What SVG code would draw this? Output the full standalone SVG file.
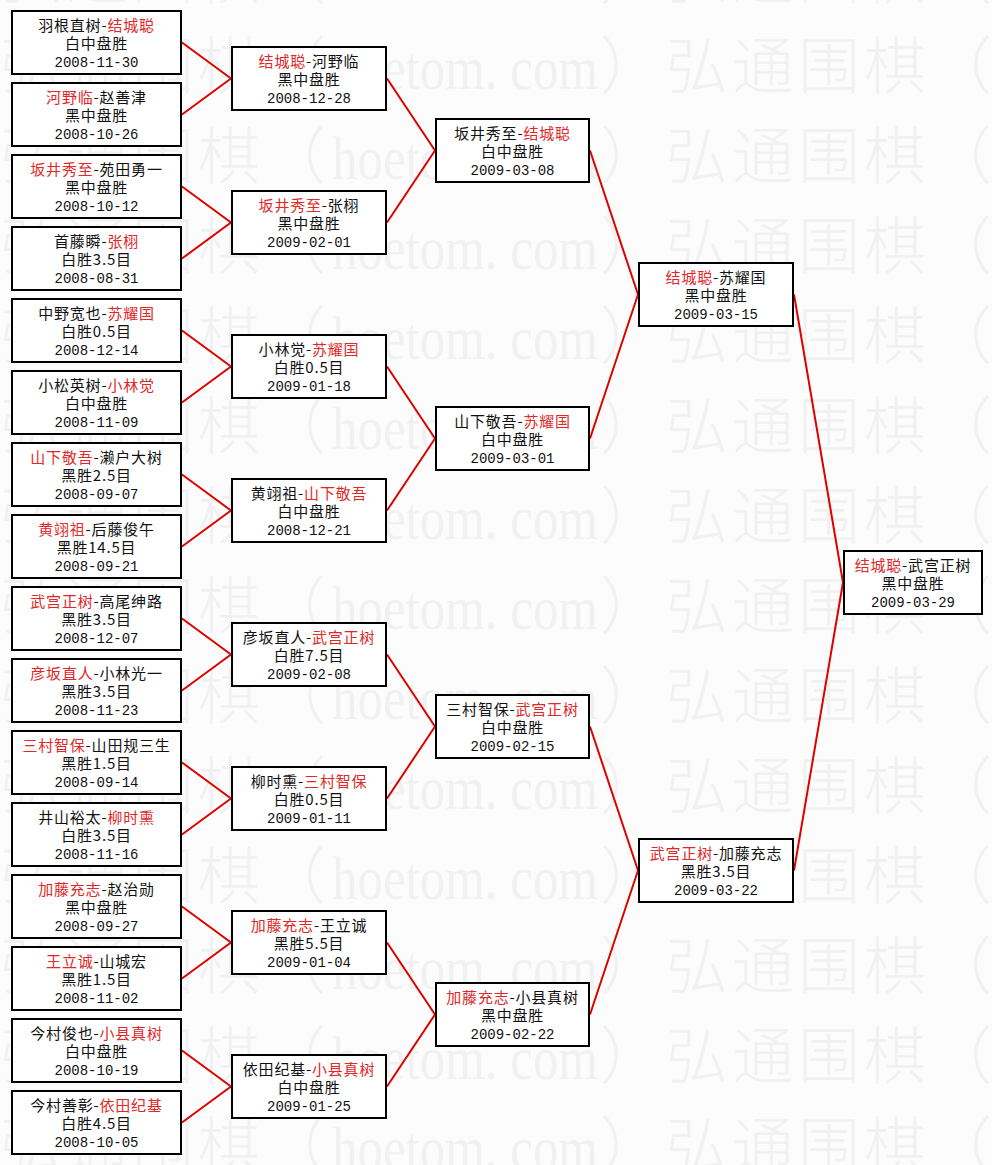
<svg xmlns="http://www.w3.org/2000/svg" width="992" height="1165" viewBox="0 0 992 1165">
<style>
.wmc{font-family:"Noto Sans CJK SC",sans-serif;font-size:62px;font-weight:300;letter-spacing:4px;fill:#f1f1f1}
.wml{font-family:"Liberation Serif","DejaVu Serif",serif;font-size:62px;fill:#f1f1f1}
.box{fill:#fff;stroke:#000;stroke-width:2}
.t{font-family:"Noto Sans CJK SC",sans-serif;font-size:15px;letter-spacing:0.8px;text-anchor:middle;fill:#111}
.d{font-family:"Liberation Mono","DejaVu Sans Mono",monospace;font-size:14px;text-anchor:middle;fill:#111}
.r{fill:#e02828}
.ln{stroke:#e00000;stroke-width:2;fill:none}
</style>
<defs>
<pattern id="wm" x="0" y="20" width="666" height="90" patternUnits="userSpaceOnUse">
<text class="wmc" x="0" y="69">弘通围棋（</text>
<text class="wml" x="332" y="69" textLength="266" lengthAdjust="spacingAndGlyphs">hoetom. com</text>
<text class="wmc" x="600" y="69">）</text>
</pattern>
</defs>
<rect width="992" height="1165" fill="#fcfcfc"/>
<rect width="992" height="1165" fill="url(#wm)"/>
<g id="connectors">
<path class="ln" d="M182 42.5L231 78.5M182 114.5L231 78.5M182 186.5L231 222.5M182 258.5L231 222.5M182 330.5L231 366.5M182 402.5L231 366.5M182 474.5L231 510.5M182 546.5L231 510.5M182 618.5L231 654.5M182 690.5L231 654.5M182 762.5L231 798.5M182 834.5L231 798.5M182 906.5L231 942.5M182 978.5L231 942.5M182 1050.5L231 1086.5M182 1122.5L231 1086.5"/>
<path class="ln" d="M387 78.5L435 150.5M387 222.5L435 150.5M387 366.5L435 438.5M387 510.5L435 438.5M387 654.5L435 726.5M387 798.5L435 726.5M387 942.5L435 1014.5M387 1086.5L435 1014.5"/>
<path class="ln" d="M590 150.5L638 294.5M590 438.5L638 294.5M590 726.5L638 870.5M590 1014.5L638 870.5"/>
<path class="ln" d="M794 294.5L843 582.5M794 870.5L843 582.5"/>
</g>
<g id="r1-1"><rect class="box" x="12" y="11" width="169" height="63"/><text class="t" x="96.5" y="31">羽根直树-<tspan class="r">结城聪</tspan></text><text class="t" x="96.5" y="49">白中盘胜</text><text class="d" x="96.5" y="67">2008-11-30</text></g>
<g id="r1-2"><rect class="box" x="12" y="83" width="169" height="63"/><text class="t" x="96.5" y="103"><tspan class="r">河野临</tspan>-赵善津</text><text class="t" x="96.5" y="121">黑中盘胜</text><text class="d" x="96.5" y="139">2008-10-26</text></g>
<g id="r1-3"><rect class="box" x="12" y="155" width="169" height="63"/><text class="t" x="96.5" y="175"><tspan class="r">坂井秀至</tspan>-苑田勇一</text><text class="t" x="96.5" y="193">黑中盘胜</text><text class="d" x="96.5" y="211">2008-10-12</text></g>
<g id="r1-4"><rect class="box" x="12" y="227" width="169" height="63"/><text class="t" x="96.5" y="247">首藤瞬-<tspan class="r">张栩</tspan></text><text class="t" x="96.5" y="265">白胜3.5目</text><text class="d" x="96.5" y="283">2008-08-31</text></g>
<g id="r1-5"><rect class="box" x="12" y="299" width="169" height="63"/><text class="t" x="96.5" y="319">中野宽也-<tspan class="r">苏耀国</tspan></text><text class="t" x="96.5" y="337">白胜0.5目</text><text class="d" x="96.5" y="355">2008-12-14</text></g>
<g id="r1-6"><rect class="box" x="12" y="371" width="169" height="63"/><text class="t" x="96.5" y="391">小松英树-<tspan class="r">小林觉</tspan></text><text class="t" x="96.5" y="409">白中盘胜</text><text class="d" x="96.5" y="427">2008-11-09</text></g>
<g id="r1-7"><rect class="box" x="12" y="443" width="169" height="63"/><text class="t" x="96.5" y="463"><tspan class="r">山下敬吾</tspan>-濑户大树</text><text class="t" x="96.5" y="481">黑胜2.5目</text><text class="d" x="96.5" y="499">2008-09-07</text></g>
<g id="r1-8"><rect class="box" x="12" y="515" width="169" height="63"/><text class="t" x="96.5" y="535"><tspan class="r">黄翊祖</tspan>-后藤俊午</text><text class="t" x="96.5" y="553">黑胜14.5目</text><text class="d" x="96.5" y="571">2008-09-21</text></g>
<g id="r1-9"><rect class="box" x="12" y="587" width="169" height="63"/><text class="t" x="96.5" y="607"><tspan class="r">武宫正树</tspan>-高尾绅路</text><text class="t" x="96.5" y="625">黑胜3.5目</text><text class="d" x="96.5" y="643">2008-12-07</text></g>
<g id="r1-10"><rect class="box" x="12" y="659" width="169" height="63"/><text class="t" x="96.5" y="679"><tspan class="r">彦坂直人</tspan>-小林光一</text><text class="t" x="96.5" y="697">黑胜3.5目</text><text class="d" x="96.5" y="715">2008-11-23</text></g>
<g id="r1-11"><rect class="box" x="12" y="731" width="169" height="63"/><text class="t" x="96.5" y="751"><tspan class="r">三村智保</tspan>-山田规三生</text><text class="t" x="96.5" y="769">黑胜1.5目</text><text class="d" x="96.5" y="787">2008-09-14</text></g>
<g id="r1-12"><rect class="box" x="12" y="803" width="169" height="63"/><text class="t" x="96.5" y="823">井山裕太-<tspan class="r">柳时熏</tspan></text><text class="t" x="96.5" y="841">白胜3.5目</text><text class="d" x="96.5" y="859">2008-11-16</text></g>
<g id="r1-13"><rect class="box" x="12" y="875" width="169" height="63"/><text class="t" x="96.5" y="895"><tspan class="r">加藤充志</tspan>-赵治勋</text><text class="t" x="96.5" y="913">黑中盘胜</text><text class="d" x="96.5" y="931">2008-09-27</text></g>
<g id="r1-14"><rect class="box" x="12" y="947" width="169" height="63"/><text class="t" x="96.5" y="967"><tspan class="r">王立诚</tspan>-山城宏</text><text class="t" x="96.5" y="985">黑胜1.5目</text><text class="d" x="96.5" y="1003">2008-11-02</text></g>
<g id="r1-15"><rect class="box" x="12" y="1019" width="169" height="63"/><text class="t" x="96.5" y="1039">今村俊也-<tspan class="r">小县真树</tspan></text><text class="t" x="96.5" y="1057">白中盘胜</text><text class="d" x="96.5" y="1075">2008-10-19</text></g>
<g id="r1-16"><rect class="box" x="12" y="1091" width="169" height="63"/><text class="t" x="96.5" y="1111">今村善彰-<tspan class="r">依田纪基</tspan></text><text class="t" x="96.5" y="1129">白胜4.5目</text><text class="d" x="96.5" y="1147">2008-10-05</text></g>
<g id="r2-1"><rect class="box" x="232" y="47" width="154" height="63"/><text class="t" x="309" y="67"><tspan class="r">结城聪</tspan>-河野临</text><text class="t" x="309" y="85">黑中盘胜</text><text class="d" x="309" y="103">2008-12-28</text></g>
<g id="r2-2"><rect class="box" x="232" y="191" width="154" height="63"/><text class="t" x="309" y="211"><tspan class="r">坂井秀至</tspan>-张栩</text><text class="t" x="309" y="229">黑中盘胜</text><text class="d" x="309" y="247">2009-02-01</text></g>
<g id="r2-3"><rect class="box" x="232" y="335" width="154" height="63"/><text class="t" x="309" y="355">小林觉-<tspan class="r">苏耀国</tspan></text><text class="t" x="309" y="373">白胜0.5目</text><text class="d" x="309" y="391">2009-01-18</text></g>
<g id="r2-4"><rect class="box" x="232" y="479" width="154" height="63"/><text class="t" x="309" y="499">黄翊祖-<tspan class="r">山下敬吾</tspan></text><text class="t" x="309" y="517">白中盘胜</text><text class="d" x="309" y="535">2008-12-21</text></g>
<g id="r2-5"><rect class="box" x="232" y="623" width="154" height="63"/><text class="t" x="309" y="643">彦坂直人-<tspan class="r">武宫正树</tspan></text><text class="t" x="309" y="661">白胜7.5目</text><text class="d" x="309" y="679">2009-02-08</text></g>
<g id="r2-6"><rect class="box" x="232" y="767" width="154" height="63"/><text class="t" x="309" y="787">柳时熏-<tspan class="r">三村智保</tspan></text><text class="t" x="309" y="805">白胜0.5目</text><text class="d" x="309" y="823">2009-01-11</text></g>
<g id="r2-7"><rect class="box" x="232" y="911" width="154" height="63"/><text class="t" x="309" y="931"><tspan class="r">加藤充志</tspan>-王立诚</text><text class="t" x="309" y="949">黑胜5.5目</text><text class="d" x="309" y="967">2009-01-04</text></g>
<g id="r2-8"><rect class="box" x="232" y="1055" width="154" height="63"/><text class="t" x="309" y="1075">依田纪基-<tspan class="r">小县真树</tspan></text><text class="t" x="309" y="1093">白中盘胜</text><text class="d" x="309" y="1111">2009-01-25</text></g>
<g id="r3-1"><rect class="box" x="436" y="119" width="153" height="63"/><text class="t" x="512.5" y="139">坂井秀至-<tspan class="r">结城聪</tspan></text><text class="t" x="512.5" y="157">白中盘胜</text><text class="d" x="512.5" y="175">2009-03-08</text></g>
<g id="r3-2"><rect class="box" x="436" y="407" width="153" height="63"/><text class="t" x="512.5" y="427">山下敬吾-<tspan class="r">苏耀国</tspan></text><text class="t" x="512.5" y="445">白中盘胜</text><text class="d" x="512.5" y="463">2009-03-01</text></g>
<g id="r3-3"><rect class="box" x="436" y="695" width="153" height="63"/><text class="t" x="512.5" y="715">三村智保-<tspan class="r">武宫正树</tspan></text><text class="t" x="512.5" y="733">白中盘胜</text><text class="d" x="512.5" y="751">2009-02-15</text></g>
<g id="r3-4"><rect class="box" x="436" y="983" width="153" height="63"/><text class="t" x="512.5" y="1003"><tspan class="r">加藤充志</tspan>-小县真树</text><text class="t" x="512.5" y="1021">黑中盘胜</text><text class="d" x="512.5" y="1039">2009-02-22</text></g>
<g id="r4-1"><rect class="box" x="639" y="263" width="154" height="63"/><text class="t" x="716" y="283"><tspan class="r">结城聪</tspan>-苏耀国</text><text class="t" x="716" y="301">黑中盘胜</text><text class="d" x="716" y="319">2009-03-15</text></g>
<g id="r4-2"><rect class="box" x="639" y="839" width="154" height="63"/><text class="t" x="716" y="859"><tspan class="r">武宫正树</tspan>-加藤充志</text><text class="t" x="716" y="877">黑胜3.5目</text><text class="d" x="716" y="895">2009-03-22</text></g>
<g id="final"><rect class="box" x="844" y="551" width="138" height="63"/><text class="t" x="913" y="571"><tspan class="r">结城聪</tspan>-武宫正树</text><text class="t" x="913" y="589">黑中盘胜</text><text class="d" x="913" y="607">2009-03-29</text></g>
</svg>
